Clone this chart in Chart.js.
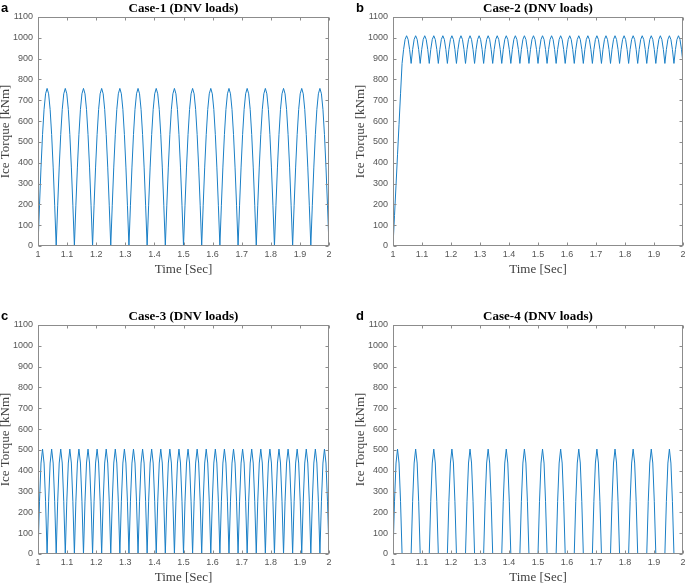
<!DOCTYPE html>
<html>
<head>
<meta charset="utf-8">
<script src="https://cdn.jsdelivr.net/npm/chart.js@4.4.0/dist/chart.umd.min.js"></script>
<style>
  html, body { margin: 0; padding: 0; background: #fff; }
  #wrap { position: relative; width: 685px; height: 584px; overflow: hidden; }
  canvas { position: absolute; }
</style>
</head>
<body>
<div id="wrap">
  <canvas id="case-1" width="342" height="290" style="left:0;top:0"></canvas>
  <canvas id="case-2" width="343" height="290" style="left:342px;top:0"></canvas>
  <canvas id="case-3" width="342" height="276" style="left:0;top:308px"></canvas>
  <canvas id="case-4" width="343" height="276" style="left:342px;top:308px"></canvas>
</div>
<script>
// time samples [Sec], shared by all four cases
const times = [
  1, 1.0052, 1.0104, 1.0156, 1.0208, 1.026, 1.0313, 1.0365, 1.0417, 1.0469, 1.0521, 1.0573,
  1.0625, 1.0677, 1.0729, 1.0781, 1.0833, 1.0885, 1.0938, 1.099, 1.1042, 1.1094, 1.1146, 1.1198,
  1.125, 1.1302, 1.1354, 1.1406, 1.1458, 1.151, 1.1563, 1.1615, 1.1667, 1.1719, 1.1771, 1.1823,
  1.1875, 1.1927, 1.1979, 1.2031, 1.2083, 1.2135, 1.2188, 1.224, 1.2292, 1.2344, 1.2396, 1.2448,
  1.25, 1.2552, 1.2604, 1.2656, 1.2708, 1.276, 1.2813, 1.2865, 1.2917, 1.2969, 1.3021, 1.3073,
  1.3125, 1.3177, 1.3229, 1.3281, 1.3333, 1.3385, 1.3438, 1.349, 1.3542, 1.3594, 1.3646, 1.3698,
  1.375, 1.3802, 1.3854, 1.3906, 1.3958, 1.401, 1.4063, 1.4115, 1.4167, 1.4219, 1.4271, 1.4323,
  1.4375, 1.4427, 1.4479, 1.4531, 1.4583, 1.4635, 1.4688, 1.474, 1.4792, 1.4844, 1.4896, 1.4948,
  1.5, 1.5052, 1.5104, 1.5156, 1.5208, 1.526, 1.5313, 1.5365, 1.5417, 1.5469, 1.5521, 1.5573,
  1.5625, 1.5677, 1.5729, 1.5781, 1.5833, 1.5885, 1.5938, 1.599, 1.6042, 1.6094, 1.6146, 1.6198,
  1.625, 1.6302, 1.6354, 1.6406, 1.6458, 1.651, 1.6563, 1.6615, 1.6667, 1.6719, 1.6771, 1.6823,
  1.6875, 1.6927, 1.6979, 1.7031, 1.7083, 1.7135, 1.7188, 1.724, 1.7292, 1.7344, 1.7396, 1.7448,
  1.75, 1.7552, 1.7604, 1.7656, 1.7708, 1.776, 1.7813, 1.7865, 1.7917, 1.7969, 1.8021, 1.8073,
  1.8125, 1.8177, 1.8229, 1.8281, 1.8333, 1.8385, 1.8438, 1.849, 1.8542, 1.8594, 1.8646, 1.8698,
  1.875, 1.8802, 1.8854, 1.8906, 1.8958, 1.901, 1.9063, 1.9115, 1.9167, 1.9219, 1.9271, 1.9323,
  1.9375, 1.9427, 1.9479, 1.9531, 1.9583, 1.9635, 1.9688, 1.974, 1.9792, 1.9844, 1.9896, 1.9948,
  2,
];

// ice torque [kNm]
const case1 = [
  0, 196, 379, 535, 656, 731, 757, 731, 656, 535, 379, 196,
  0, 196, 379, 535, 656, 731, 757, 731, 656, 535, 379, 196,
  0, 196, 379, 535, 656, 731, 757, 731, 656, 535, 379, 196,
  0, 196, 379, 535, 656, 731, 757, 731, 656, 535, 379, 196,
  0, 196, 379, 535, 656, 731, 757, 731, 656, 535, 379, 196,
  0, 196, 379, 535, 656, 731, 757, 731, 656, 535, 379, 196,
  0, 196, 379, 535, 656, 731, 757, 731, 656, 535, 379, 196,
  0, 196, 379, 535, 656, 731, 757, 731, 656, 535, 379, 196,
  0, 196, 379, 535, 656, 731, 757, 731, 656, 535, 379, 196,
  0, 196, 379, 535, 656, 731, 757, 731, 656, 535, 379, 196,
  0, 196, 379, 535, 656, 731, 757, 731, 656, 535, 379, 196,
  0, 196, 379, 535, 656, 731, 757, 731, 656, 535, 379, 196,
  0, 196, 379, 535, 656, 731, 757, 731, 656, 535, 379, 196,
  0, 196, 379, 535, 656, 731, 757, 731, 656, 535, 379, 196,
  0, 196, 379, 535, 656, 731, 757, 731, 656, 535, 379, 196,
  0, 196, 379, 535, 656, 731, 757, 731, 656, 535, 379, 196,
  0,
];

const case2 = [
  0, 146, 292, 438, 585, 731, 877, 944, 992, 1010, 992, 944,
  877, 944, 992, 1010, 992, 944, 877, 944, 992, 1010, 992, 944,
  877, 944, 992, 1010, 992, 944, 877, 944, 992, 1010, 992, 944,
  877, 944, 992, 1010, 992, 944, 877, 944, 992, 1010, 992, 944,
  877, 944, 992, 1010, 992, 944, 877, 944, 992, 1010, 992, 944,
  877, 944, 992, 1010, 992, 944, 877, 944, 992, 1010, 992, 944,
  877, 944, 992, 1010, 992, 944, 877, 944, 992, 1010, 992, 944,
  877, 944, 992, 1010, 992, 944, 877, 944, 992, 1010, 992, 944,
  877, 944, 992, 1010, 992, 944, 877, 944, 992, 1010, 992, 944,
  877, 944, 992, 1010, 992, 944, 877, 944, 992, 1010, 992, 944,
  877, 944, 992, 1010, 992, 944, 877, 944, 992, 1010, 992, 944,
  877, 944, 992, 1010, 992, 944, 877, 944, 992, 1010, 992, 944,
  877, 944, 992, 1010, 992, 944, 877, 944, 992, 1010, 992, 944,
  877, 944, 992, 1010, 992, 944, 877, 944, 992, 1010, 992, 944,
  877, 944, 992, 1010, 992, 944, 877, 944, 992, 1010, 992, 944,
  877, 944, 992, 1010, 992, 944, 877, 944, 992, 1010, 992, 944,
  877,
];

const case3 = [
  0, 253, 437, 504, 437, 253, 0, 253, 437, 504, 437, 253,
  0, 253, 437, 504, 437, 253, 0, 253, 437, 504, 437, 253,
  0, 253, 437, 504, 437, 253, 0, 253, 437, 504, 437, 253,
  0, 253, 437, 504, 437, 253, 0, 253, 437, 504, 437, 253,
  0, 253, 437, 504, 437, 253, 0, 253, 437, 504, 437, 253,
  0, 253, 437, 504, 437, 253, 0, 253, 437, 504, 437, 253,
  0, 253, 437, 504, 437, 253, 0, 253, 437, 504, 437, 253,
  0, 253, 437, 504, 437, 253, 0, 253, 437, 504, 437, 253,
  0, 253, 437, 504, 437, 253, 0, 253, 437, 504, 437, 253,
  0, 253, 437, 504, 437, 253, 0, 253, 437, 504, 437, 253,
  0, 253, 437, 504, 437, 253, 0, 253, 437, 504, 437, 253,
  0, 253, 437, 504, 437, 253, 0, 253, 437, 504, 437, 253,
  0, 253, 437, 504, 437, 253, 0, 253, 437, 504, 437, 253,
  0, 253, 437, 504, 437, 253, 0, 253, 437, 504, 437, 253,
  0, 253, 437, 504, 437, 253, 0, 253, 437, 504, 437, 253,
  0, 253, 437, 504, 437, 253, 0, 253, 437, 504, 437, 253,
  0,
];

const case4 = [
  0, 253, 437, 504, 437, 253, 0, 0, 0, 0, 0, 0,
  0, 253, 437, 504, 437, 253, 0, 0, 0, 0, 0, 0,
  0, 253, 437, 504, 437, 253, 0, 0, 0, 0, 0, 0,
  0, 253, 437, 504, 437, 253, 0, 0, 0, 0, 0, 0,
  0, 253, 437, 504, 437, 253, 0, 0, 0, 0, 0, 0,
  0, 253, 437, 504, 437, 253, 0, 0, 0, 0, 0, 0,
  0, 253, 437, 504, 437, 253, 0, 0, 0, 0, 0, 0,
  0, 253, 437, 504, 437, 253, 0, 0, 0, 0, 0, 0,
  0, 253, 437, 504, 437, 253, 0, 0, 0, 0, 0, 0,
  0, 253, 437, 504, 437, 253, 0, 0, 0, 0, 0, 0,
  0, 253, 437, 504, 437, 253, 0, 0, 0, 0, 0, 0,
  0, 253, 437, 504, 437, 253, 0, 0, 0, 0, 0, 0,
  0, 253, 437, 504, 437, 253, 0, 0, 0, 0, 0, 0,
  0, 253, 437, 504, 437, 253, 0, 0, 0, 0, 0, 0,
  0, 253, 437, 504, 437, 253, 0, 0, 0, 0, 0, 0,
  0, 253, 437, 504, 437, 253, 0, 0, 0, 0, 0, 0,
  0,
];

const xTicks = [1, 1.1, 1.2, 1.3, 1.4, 1.5, 1.6, 1.7, 1.8, 1.9, 2];
const yTicks = [0, 100, 200, 300, 400, 500, 600, 700, 800, 900, 1000, 1100];

// frame with inward ticks (matlab style) + titles
const panelDecor = {
  id: 'panelDecor',
  afterDraw(chart, args, opts) {
    const { ctx, chartArea: a, scales } = chart;
    const left = Math.round(a.left) + 0.5;
    const top = Math.round(a.top) + 0.5;
    const right = Math.round(a.right) - 0.5;
    const bottom = Math.round(a.bottom) - 0.5;

    ctx.save();
    ctx.strokeStyle = '#8c8c8c';
    ctx.lineWidth = 1;
    ctx.strokeRect(left, top, right - left, bottom - top);
    ctx.beginPath();
    scales.x.ticks.forEach((t) => {
      const px = Math.round(scales.x.getPixelForValue(t.value)) + 0.5;
      ctx.moveTo(px, bottom);
      ctx.lineTo(px, bottom - 3);
      ctx.moveTo(px, top);
      ctx.lineTo(px, top + 3);
    });
    scales.y.ticks.forEach((t) => {
      const py = Math.round(scales.y.getPixelForValue(t.value)) + 0.5;
      ctx.moveTo(left, py);
      ctx.lineTo(left + 3, py);
      ctx.moveTo(right, py);
      ctx.lineTo(right - 3, py);
    });
    ctx.stroke();

    const cx = (a.left + a.right) / 2;
    ctx.fillStyle = '#000';
    ctx.textBaseline = 'alphabetic';
    ctx.font = 'bold 13px "Liberation Serif"';
    ctx.textAlign = 'center';
    ctx.fillText(opts.title, cx, a.top - 5.5);
    ctx.font = 'bold 13px "Liberation Sans"';
    ctx.textAlign = 'left';
    ctx.fillText(opts.letter, a.left - 37, a.top - 5.5);

    ctx.fillStyle = '#404040';
    ctx.font = '13px "Liberation Serif"';
    ctx.textAlign = 'center';
    ctx.textBaseline = 'middle';
    ctx.fillText('Time [Sec]', cx, a.bottom + 24);
    ctx.translate(a.left - 32, (a.top + a.bottom) / 2);
    ctx.rotate(-Math.PI / 2);
    ctx.fillText('Ice Torque [kNm]', 0, 0);
    ctx.restore();
  },
};

const drawCase = (id, letter, title, values, yWidth, padRight, padBottom) => {
  const ctx = document.getElementById(id).getContext('2d');

  const config = {
    type: 'line',
    data: {
      datasets: [
        {
          data: times.map((t, i) => ({ x: t, y: values[i] })),
          borderColor: '#1a7fc6',
          borderWidth: 1,
          pointRadius: 0,
          tension: 0,
          fill: false,
        },
      ],
    },
    options: {
      responsive: false,
      animation: false,
      events: [],
      layout: {
        padding: { top: 17, left: 0, right: padRight, bottom: padBottom },
      },
      plugins: {
        legend: { display: false },
        tooltip: { enabled: false },
        panelDecor: { letter: letter, title: title },
      },
      scales: {
        x: {
          type: 'linear',
          min: 1,
          max: 2,
          afterBuildTicks: (scale) => {
            scale.ticks = xTicks.map((v) => ({ value: v }));
          },
          afterFit: (scale) => {
            scale.height = 30;
            scale.paddingLeft = 0;
            scale.paddingRight = 0;
          },
          ticks: {
            autoSkip: false,
            maxRotation: 0,
            padding: 3,
            color: '#555',
            font: { size: 9, family: 'Liberation Sans' },
            callback: (v) => String(v),
          },
          grid: { display: false, drawTicks: false },
          border: { display: false },
        },
        y: {
          type: 'linear',
          min: 0,
          max: 1100,
          afterBuildTicks: (scale) => {
            scale.ticks = yTicks.map((v) => ({ value: v }));
          },
          afterFit: (scale) => {
            scale.width = yWidth;
            scale.paddingTop = 0;
            scale.paddingBottom = 0;
          },
          ticks: {
            autoSkip: false,
            padding: 5,
            color: '#555',
            font: { size: 9, family: 'Liberation Sans' },
            callback: (v) => String(v),
          },
          grid: { display: false, drawTicks: false },
          border: { display: false },
        },
      },
    },
    plugins: [panelDecor],
  };

  new Chart(ctx, config);
};

drawCase('case-1', 'a', 'Case-1 (DNV loads)', case1, 38, 13, 14);
drawCase('case-2', 'b', 'Case-2 (DNV loads)', case2, 51, 2, 14);
drawCase('case-3', 'c', 'Case-3 (DNV loads)', case3, 38, 13, 0);
drawCase('case-4', 'd', 'Case-4 (DNV loads)', case4, 51, 2, 0);
</script>
</body>
</html>
